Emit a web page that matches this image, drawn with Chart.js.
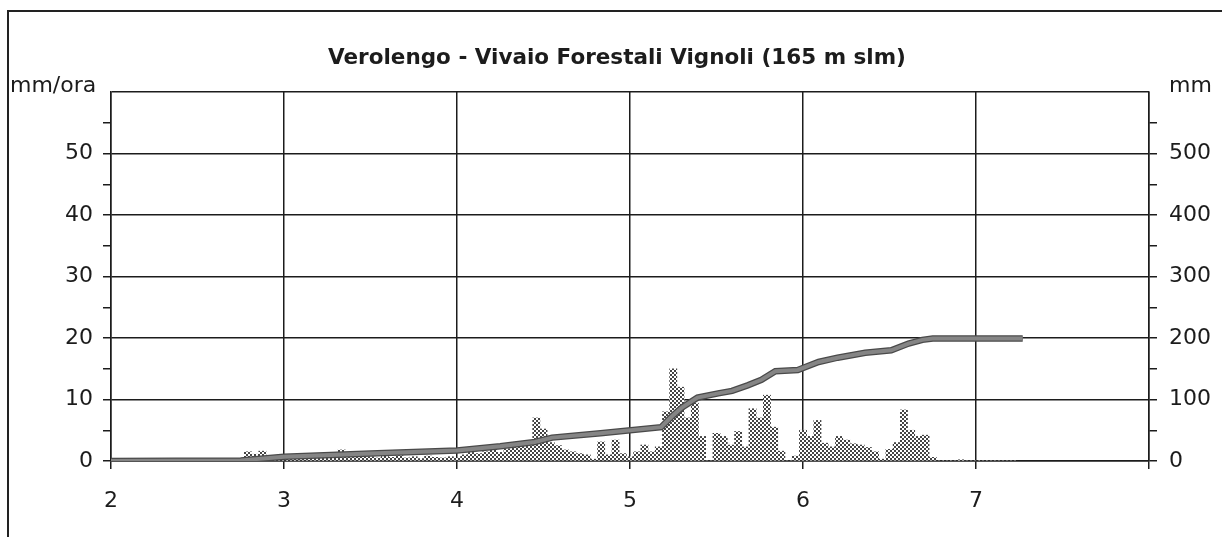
<!DOCTYPE html>
<html>
  <head>
    <title>Verolengo - Vivaio Forestali Vignoli</title>
    <style>
      body {
        margin: 0;
        background: white;
      }

      .wrap {
        position: relative;
        width: 1222px;
        height: 537px;
        overflow: hidden;
      }

      /* cornice esterna: solo lato sinistro e alto */
      .frame {
        position: absolute;
        left: 7px;
        top: 10px;
        width: 1240px;
        height: 560px;
        border-left: 2px solid #222;
        border-top: 2px solid #222;
        pointer-events: none;
      }
    </style>
  </head>
  <body>
    <div class="wrap">
      <canvas id="rainChart" width="1222" height="537"></canvas>
      <div class="frame"></div>
    </div>

    <script src="https://cdn.jsdelivr.net/npm/chart.js"></script>
    <script>
      // pioggia oraria (mm/ora), una barra ogni ora a partire dal giorno 2
      const startDay = 2;
      const rainHourly = [
        0, 0, 0, 0, 0, 0, 0, 0, 0, 0, 0, 0, 0, 0, 0, 0, 0, 0,
        0.2, 1.5, 1.1, 1.6, 0.3, 0.2,
        0.3, 0.5, 0.4, 0.6, 0.5, 0.8, 0.6, 0.7, 1.8, 0.8, 0.6, 0.9,
        0.7, 0.5, 0.8, 0.6, 0.9, 0.5, 0.7, 0.4, 0.8, 0.6, 0.5, 0.7,
        0.5, 1.0, 1.4, 1.2, 1.5, 1.9, 1.4, 2.0, 2.4, 2.6, 3.0, 7.0,
        5.2, 3.0, 2.5, 1.8, 1.5, 1.2, 1.0, 0.3, 3.1, 1.0, 3.4, 1.2,
        0.7, 1.5, 2.6, 1.5, 2.3, 8.0, 15.0, 12.0, 7.0, 9.4, 4.0, 0,
        4.5, 4.0, 2.6, 4.8, 2.3, 8.5, 7.0, 10.7, 5.5, 1.6, 0, 0.8,
        5.0, 4.0, 6.6, 2.9, 2.3, 4.0, 3.4, 2.8, 2.6, 2.2, 1.5, 0.3,
        1.9, 3.0, 8.3, 5.0, 4.0, 4.2, 0.6, 0, 0, 0, 0.2, 0,
        0, 0, 0, 0, 0, 0
      ];

      // pioggia cumulata (mm), asse di destra
      const cumDays = [2.0, 2.75, 3.0, 3.5, 4.0, 4.25, 4.45, 4.55, 4.83, 5.18, 5.24, 5.30, 5.39,
        5.51, 5.59, 5.68, 5.76, 5.84, 5.97, 6.09, 6.20, 6.36, 6.51, 6.61, 6.69, 6.75, 7.27];
      const cumMm = [0, 1, 7, 12, 17, 24, 31, 38, 45, 55, 72, 87, 103,
        110, 114, 123, 132, 146, 148, 161, 168, 176, 180, 191, 197, 199, 199];

      const dayTicks = [2, 3, 4, 5, 6, 7];
      const rateTicks = [0, 10, 20, 30, 40, 50];
      const totalTicks = [0, 100, 200, 300, 400, 500];

      const titleText = 'Verolengo - Vivaio Forestali Vignoli (165 m slm)';
      const leftUnit = 'mm/ora';
      const rightUnit = 'mm';

      const ink = '#1c1c1c';
      const fontFamily = '"DejaVu Sans", "Liberation Sans", Arial, sans-serif';

      function dotPattern() {
        const c = document.createElement('canvas');
        c.width = 4;
        c.height = 4;
        const g = c.getContext('2d');
        g.fillStyle = '#ffffff';
        g.fillRect(0, 0, 4, 4);
        g.fillStyle = '#444444';
        g.fillRect(0, 0, 2, 2);
        g.fillRect(2, 2, 2, 2);
        return g.createPattern(c, 'repeat');
      }

      const rainPoints = rainHourly.map((v, i) => ({ x: startDay + i / 24, y: v }));
      const cumPoints = cumDays.map((d, i) => ({ x: d, y: cumMm[i] }));

      // titolo e unità
      const labelsPlugin = {
        id: 'labels',
        afterDraw(chart) {
          const ctx = chart.ctx;
          ctx.save();
          ctx.fillStyle = ink;
          ctx.textBaseline = 'middle';
          ctx.font = 'bold 21.5px ' + fontFamily;
          ctx.textAlign = 'center';
          ctx.fillText(titleText, 617, 58);
          ctx.font = '22px ' + fontFamily;
          ctx.textAlign = 'left';
          ctx.fillText(leftUnit, 10, 86);
          ctx.fillText(rightUnit, 1169, 86);
          ctx.restore();
        }
      };

      const isMajor = (v, step) => Math.abs(v / step - Math.round(v / step)) < 1e-6;

      // la linea cumulata ha un bordo scuro: due passate sugli stessi punti
      const cumLine = (color, width, order) => ({
        type: 'line',
        label: 'mm',
        data: cumPoints,
        yAxisID: 'y1',
        borderColor: color,
        borderWidth: width,
        borderCapStyle: 'butt',
        pointRadius: 0,
        tension: 0,
        order: order
      });

      const chart = new Chart(document.getElementById('rainChart'), {
        data: {
          datasets: [
            cumLine('#858585', 4, 0),
            cumLine('#4a4a4a', 6.5, 1),
            {
              type: 'bar',
              label: 'mm/ora',
              data: rainPoints,
              yAxisID: 'y',
              backgroundColor: dotPattern(),
              borderWidth: 0,
              barPercentage: 1,
              categoryPercentage: 1,
              order: 2
            }
          ]
        },
        options: {
          responsive: false,
          animation: false,
          layout: { padding: { top: 92, left: 0, right: 0, bottom: 0 } },
          plugins: {
            legend: { display: false },
            tooltip: { enabled: false },
            title: { display: false }
          },
          scales: {
            x: {
              type: 'linear',
              min: 2,
              max: 8,
              offset: false,
              afterFit(scale) { scale.height = 76; },
              afterBuildTicks(scale) {
                scale.ticks = [2, 3, 4, 5, 6, 7, 8].map(v => ({ value: v }));
              },
              ticks: {
                color: ink,
                font: { family: fontFamily, size: 22 },
                padding: 19,
                maxRotation: 0,
                callback: v => dayTicks.includes(v) ? String(v) : ''
              },
              grid: {
                offset: false,
                color: ink,
                lineWidth: 1.5,
                tickLength: 8,
                tickColor: ink
              },
              border: { color: ink, width: 1.5 }
            },
            y: {
              position: 'left',
              min: 0,
              max: 60,
              afterFit(scale) { scale.width = 111; },
              ticks: {
                stepSize: 5,
                color: ink,
                font: { family: fontFamily, size: 22 },
                padding: 10,
                callback: v => rateTicks.includes(v) ? String(v) : ''
              },
              grid: {
                lineWidth: 1.5,
                tickLength: 8,
                color: ctx => isMajor(ctx.tick.value, 10) ? ink : 'rgba(0,0,0,0)',
                tickColor: ctx => ctx.tick.value === 60 ? 'rgba(0,0,0,0)' : ink
              },
              border: { color: ink, width: 1.5 }
            },
            y1: {
              position: 'right',
              min: 0,
              max: 600,
              afterFit(scale) { scale.width = 73; },
              ticks: {
                stepSize: 50,
                color: ink,
                font: { family: fontFamily, size: 22 },
                padding: 12,
                callback: v => totalTicks.includes(v) ? String(v) : ''
              },
              grid: {
                drawOnChartArea: false,
                lineWidth: 1.5,
                tickLength: 8,
                tickColor: ctx => ctx.tick.value === 600 ? 'rgba(0,0,0,0)' : ink
              },
              border: { color: ink, width: 1.5 }
            }
          }
        },
        plugins: [labelsPlugin]
      });
    </script>
  </body>
</html>
